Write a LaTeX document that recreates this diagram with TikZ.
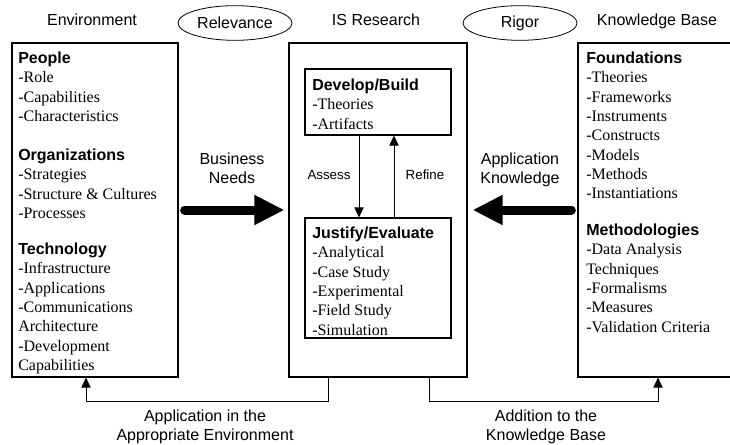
\documentclass[tikz,border=0pt]{standalone}
\usepackage{fontspec}
\setmainfont{Liberation Serif}
\setsansfont{Liberation Sans}
\usetikzlibrary{shapes.geometric,arrows.meta}
\newcommand{\grouphead}[1]{{\sffamily\bfseries #1}}
\begin{document}
\begin{tikzpicture}[x=0.75pt,y=-0.75pt]
	\tikzstyle{box}=[draw,line width=0.9pt,inner sep=0pt]
	\tikzstyle{items}=[anchor=north west,align=left,inner sep=0pt,font=\fontsize{12}{14.5}\selectfont]
	\tikzstyle{sflabel}=[anchor=base,align=center,inner sep=0pt,font=\sffamily\fontsize{12}{14.25}\selectfont]
	\tikzstyle{twoline}=[sflabel,anchor=north]
	\tikzstyle{small}=[inner sep=0pt,font=\sffamily\fontsize{10}{12}\selectfont]
	\tikzstyle{oval}=[draw,ellipse,line width=0.6pt,minimum width=85.5pt,minimum height=26pt,inner sep=0pt,font=\sffamily\fontsize{12}{14}\selectfont]
	\tikzstyle{conn}=[line width=0.6pt,-{Triangle[length=7.5pt,width=7pt]}]
	\tikzstyle{bigarrow}=[line width=6.75pt,line cap=round,-{Triangle[length=22.5pt,width=21pt]}]
	\clip (0,0) rectangle (730,445);
	\node[box,minimum width=124.5pt,minimum height=250.5pt] (env) at (95,210) {};
	\node[box,minimum width=133.5pt,minimum height=250.5pt] (res) at (378,210) {};
	\node[box,minimum width=124.5pt,minimum height=250.5pt] (kb) at (661,210) {};
	\node[box,minimum width=109.5pt,minimum height=49.5pt] (dev) at (378,102) {};
	\node[box,minimum width=109.5pt,minimum height=90pt] (jus) at (378,278) {};
	\node[sflabel] (envtitle) at (92,26) {Environment};
	\node[sflabel] (restitle) at (376,26) {IS Research};
	\node[sflabel] (kbtitle) at (657,26) {Knowledge Base};
	\node[oval] (relevance) at (235,23) {Relevance};
	\node[oval] (rigor) at (520,23) {Rigor};
	\node[items] (people) at (18,51.5) {\grouphead{People}\\-Role\\-Capabilities\\-Characteristics};
	\node[items] (orgs) at (18,148.5) {\grouphead{Organizations}\\-Strategies\\-Structure \& Cultures\\-Processes};
	\node[items] (tech) at (18,242.5) {\grouphead{Technology}\\-Infrastructure\\-Applications\\-Communications\\Architecture\\-Development\\Capabilities};
	\node[items] (build) at (312,78.5) {\grouphead{Develop/Build}\\-Theories\\-Artifacts};
	\node[items] (evaluate) at (312,226.5) {\grouphead{Justify/Evaluate}\\-Analytical\\-Case Study\\-Experimental\\-Field Study\\-Simulation};
	\node[items] (found) at (586,51.5) {\grouphead{Foundations}\\-Theories\\-Frameworks\\-Instruments\\-Constructs\\-Models\\-Methods\\-Instantiations};
	\node[items] (meth) at (586,223.5) {\grouphead{Methodologies}\\-Data Analysis\\Techniques\\-Formalisms\\-Measures\\-Validation Criteria};
	\node[twoline] (needs) at (232,152.5) {Business\\Needs};
	\node[twoline] (knowhow) at (520,152.5) {Application\\Knowledge};
	\node[small] (assess) at (329,175) {Assess};
	\node[small] (refine) at (425,175) {Refine};
	\node[twoline] (apply) at (205,409.5) {Application in the\\Appropriate Environment};
	\node[twoline] (addition) at (546,409.5) {Addition to the\\Knowledge Base};
	\draw[bigarrow] ([xshift=4.5pt]env.east) -- ([xshift=-3pt]res.west);
	\draw[bigarrow] ([xshift=-4.5pt]kb.west) -- ([xshift=3.75pt]res.east);
	\draw[conn] ([xshift=-14.25pt]dev.south) -- ([xshift=-14.25pt]jus.north);
	\draw[conn] ([xshift=12pt]jus.north) -- ([xshift=12pt]dev.south);
	\draw[conn] ([xshift=-37.5pt]res.south) -- ++(0,24) -| ([xshift=-6.75pt]env.south);
	\draw[conn] ([xshift=38.25pt]res.south) -- ++(0,24) -| ([xshift=-2.25pt]kb.south);
\end{tikzpicture}
\end{document}
